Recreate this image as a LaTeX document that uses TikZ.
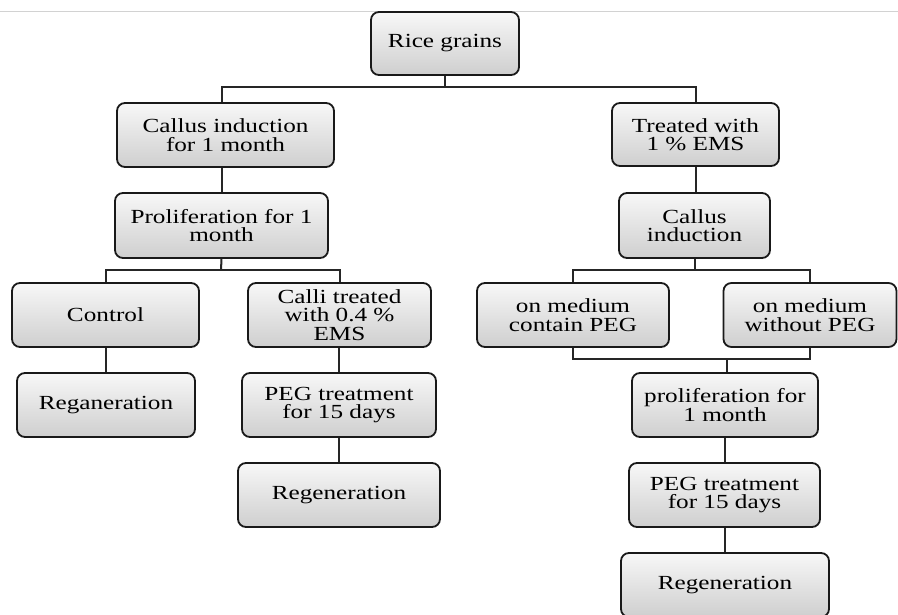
\documentclass[tikz,border=0pt]{standalone}
\usepackage{fontspec}
\setmainfont{Liberation Serif}[FakeStretch=1.26]
\begin{document}
\begin{tikzpicture}[x=1pt,y=-1pt,
  box/.style={draw=black!90, line width=1.8pt, rounded corners=8pt,
    top color=gray!6, bottom color=gray!38, align=center,
    inner sep=0pt, font=\fontsize{20}{18.6}\selectfont, text=black},
  link/.style={draw=black!85, line width=2pt}]
\useasboundingbox (0,0) rectangle (898,614);
\draw[gray!35, line width=1pt] (0,11) -- (898,11);

\node[box, minimum width=148pt, minimum height=63pt] (rice) at (445,43.5) {Rice grains};
\node[box, minimum width=217pt, minimum height=64pt] (cal1) at (225.5,135) {Callus induction\\for 1 month};
\node[box, minimum width=167pt, minimum height=63pt] (ems1) at (695.5,134.5) {Treated with\\1 \% EMS};
\node[box, minimum width=213pt, minimum height=65pt] (prol1) at (221.5,225.5) {Proliferation for 1\\month};
\node[box, minimum width=151pt, minimum height=65pt] (cal2) at (694.5,225.5) {Callus\\induction};
\node[box, minimum width=187pt, minimum height=64pt] (ctrl) at (105.5,315) {Control};
\node[box, minimum width=183pt, minimum height=64pt] (calli) at (339.5,315) {Calli treated\\with 0.4 \%\\EMS};
\node[box, minimum width=192pt, minimum height=64pt] (medA) at (573,315) {on medium\\contain PEG};
\node[box, minimum width=173pt, minimum height=64pt] (medB) at (810,315) {on medium\\without PEG};
\node[box, minimum width=178pt, minimum height=64pt] (regL) at (106,405) {Reganeration};
\node[box, minimum width=194pt, minimum height=64pt] (pegL) at (339,405) {PEG treatment\\for 15 days};
\node[box, minimum width=186pt, minimum height=64pt] (prol2) at (725,405) {proliferation for\\1 month};
\node[box, minimum width=202pt, minimum height=64pt] (reg2) at (339,495) {Regeneration};
\node[box, minimum width=191pt, minimum height=64pt] (pegR) at (724.5,495) {PEG treatment\\for 15 days};
\node[box, minimum width=208pt, minimum height=64pt] (reg3) at (725,585) {Regeneration};

\coordinate (j1) at (445,87);
\coordinate (j2) at (221,270);
\coordinate (j3) at (695,270);
\coordinate (j4) at (727,359);

\draw[link] (rice.south) -- (j1);
\draw[link] (cal1.north -| prol1.north) |- (j1) -| (ems1.north);
\draw[link] (prol1.north) -- (prol1.north |- cal1.south);
\draw[link] (ems1.south) -- (ems1.south |- cal2.north);
\draw[link] (prol1.south) -- (j2);
\draw[link] (ctrl.north) |- (j2) -| (calli.north);
\draw[link] (cal2.south -| j3) -- (j3);
\draw[link] (medA.north) |- (j3) -| (medB.north);
\draw[link] (medA.south) |- (j4) -| (medB.south);
\draw[link] (j4) -- (j4 |- prol2.north);
\draw[link] (regL.north) -- (regL.north |- ctrl.south);
\draw[link] (pegL.north) -- (pegL.north |- calli.south);
\draw[link] (pegL.south) -- (pegL.south |- reg2.north);
\draw[link] (prol2.south) -- (prol2.south |- pegR.north);
\draw[link] (prol2.south |- pegR.south) -- (prol2.south |- reg3.north);
\end{tikzpicture}
\end{document}
